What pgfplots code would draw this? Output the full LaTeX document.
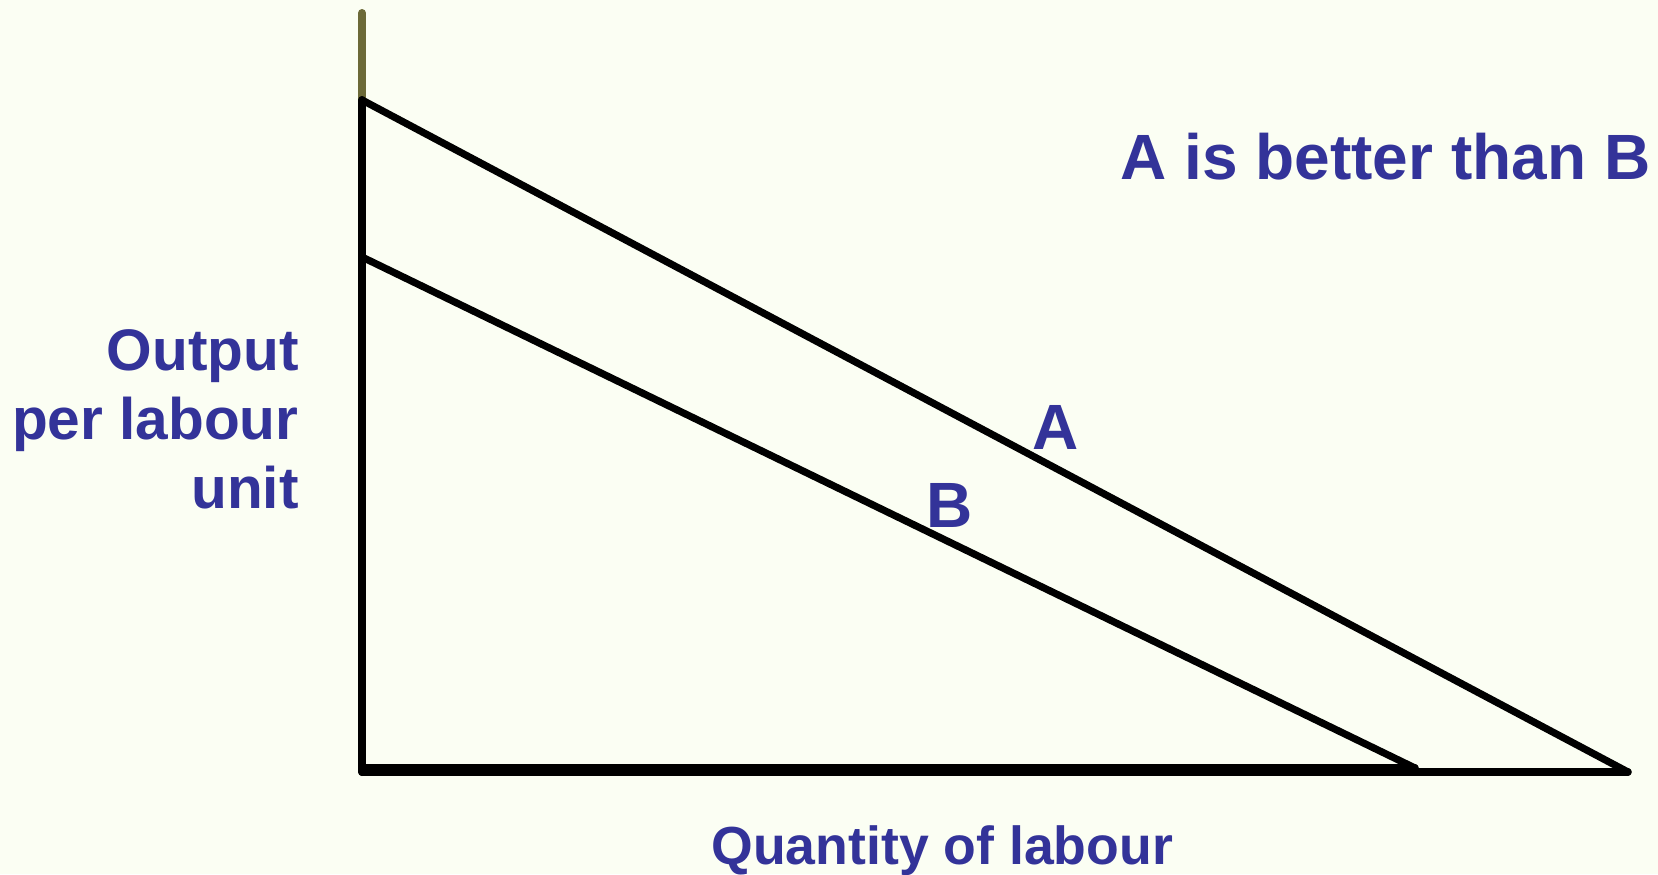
\documentclass[border=0pt]{standalone}
\usepackage{pgfplots}
\pgfplotsset{compat=1.18}
\usepackage{fontspec}
\setmainfont{Liberation Sans}
\definecolor{bg}{RGB}{251,254,243}
\definecolor{txt}{RGB}{51,51,153}
\definecolor{olivax}{RGB}{108,106,56}
\begin{document}
\begin{tikzpicture}[x=0.5pt,y=0.5pt]
\fill[bg] (0,0) rectangle (1658,874);
\begin{axis}[at={(0,0)}, anchor=south west, scale only axis,
  width=829pt, height=437pt,
  xmin=0, xmax=1658, ymin=0, ymax=874, y dir=reverse,
  axis lines=none, ticks=none, clip=false,
  every axis plot/.append style={line cap=round, line join=round}]
% vertical axis
\addplot[olivax, line width=4pt] coordinates {(362,13) (362,100)};
\addplot[black, line width=4pt] coordinates {(362,100) (362,772)};
% horizontal axis
\addplot[black, line width=3.7pt] coordinates {(362,772) (1628,772)};
\addplot[black, line width=3.7pt] coordinates {(362,768) (1415,768)};
% line A
\addplot[black, line width=3.6pt] coordinates {(362,100) (1628,772)};
% line B
\addplot[black, line width=3.6pt] coordinates {(362,257) (1415,768)};
% texts
\node[anchor=base west, inner sep=0, text=txt, font=\fontsize{32pt}{38pt}\selectfont\bfseries] at (axis cs:1120,179) {A is better than B};
\node[anchor=base east, inner sep=0, text=txt, font=\fontsize{29.3pt}{34pt}\selectfont\bfseries] at (axis cs:299,370) {Output};
\node[anchor=base east, inner sep=0, text=txt, font=\fontsize{29.3pt}{34pt}\selectfont\bfseries] at (axis cs:299,439) {per labour};
\node[anchor=base east, inner sep=0, text=txt, font=\fontsize{29.3pt}{34pt}\selectfont\bfseries] at (axis cs:299,508) {unit};
\node[anchor=base west, inner sep=0, text=txt, font=\fontsize{26.8pt}{32pt}\selectfont\bfseries] at (axis cs:711,864) {Quantity of labour};
\node[anchor=base west, inner sep=0, text=txt, font=\fontsize{32pt}{38pt}\selectfont\bfseries] at (axis cs:1032,449) {A};
\node[anchor=base west, inner sep=0, text=txt, font=\fontsize{32pt}{38pt}\selectfont\bfseries] at (axis cs:926,527) {B};
\end{axis}
\pgfresetboundingbox
\useasboundingbox (0,0) rectangle (1658,874);
\end{tikzpicture}
\end{document}
